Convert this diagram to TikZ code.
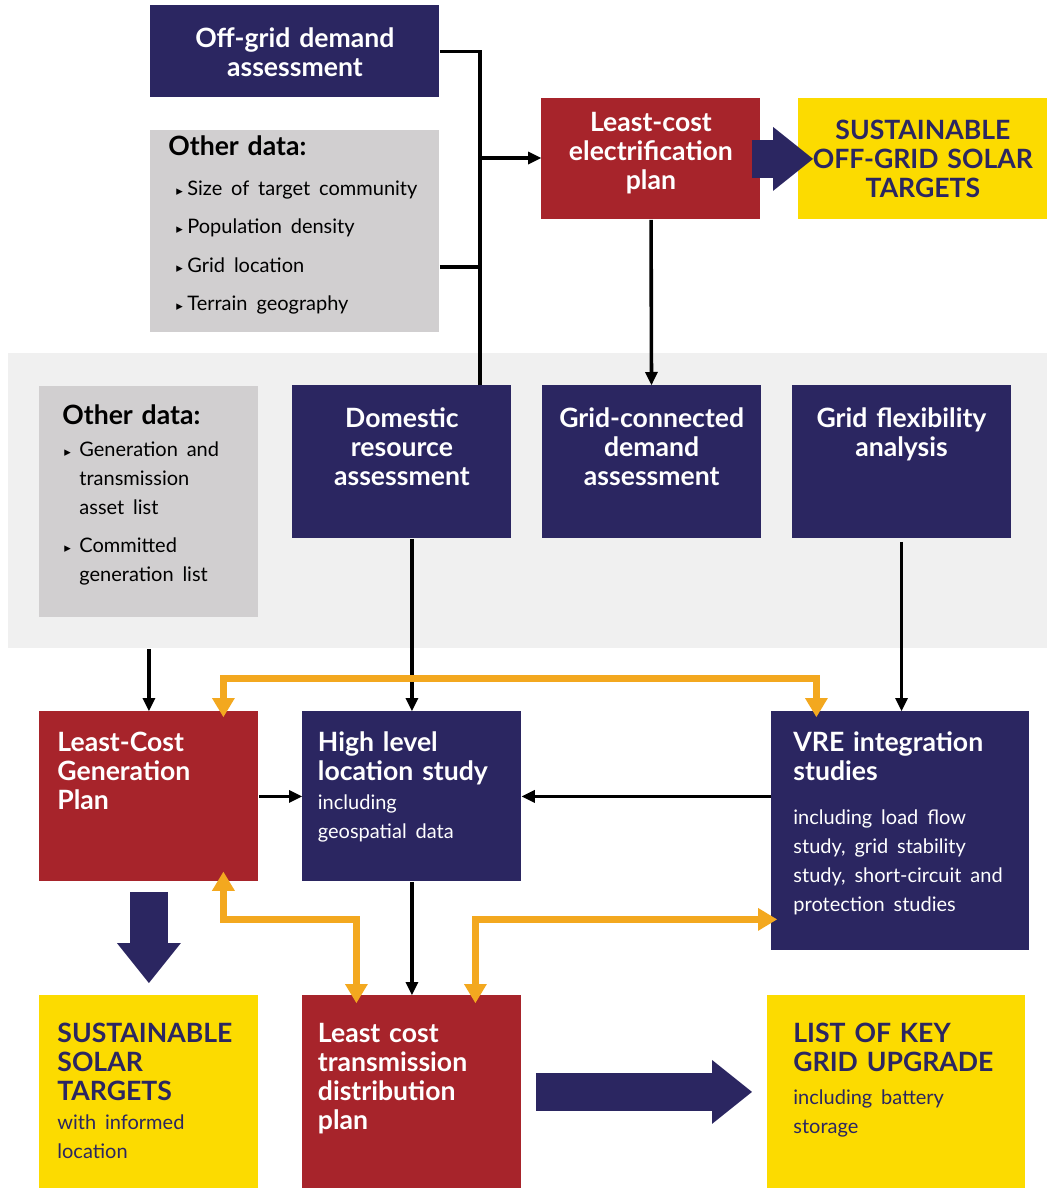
\documentclass[tikz,border=0pt]{standalone}
\usepackage{fontspec}
\setmainfont{Lato}
\newfontfamily\symfont{DejaVu Sans}
\usepackage{tikz}
\usetikzlibrary{arrows.meta,positioning}
\definecolor{hnavy}{HTML}{2B2661}
\definecolor{hred}{HTML}{A7242B}
\definecolor{hyellow}{HTML}{FCDB00}
\definecolor{hgrey}{HTML}{D1CFD0}
\definecolor{hpanel}{HTML}{F0F0F0}
\definecolor{horange}{HTML}{F3A81F}
\newcommand{\hd}{\bfseries\fontsize{13.3}{14.5}\selectfont}
\newcommand{\bd}{\mdseries\fontsize{10}{14.5}\selectfont}
\newcommand{\tbul}{{\symfont\fontsize{6.5}{6.5}\selectfont ▸}}

\begin{document}
\begin{tikzpicture}[x=0.5pt, y=-0.5pt,
        box/.style={draw=none, inner xsep=0pt, inner ysep=0pt, anchor=north west, font=\hd},
        cbox/.style={box, align=center},
        lbox/.style={box, align=left},
        navybox/.style={fill=hnavy, text=white},
        redbox/.style={fill=hred, text=white},
        yelbox/.style={fill=hyellow, text=hnavy},
        greybox/.style={fill=hgrey, text=black},
        rowbox/.style={cbox, navybox, text width=109.5pt, text height=21pt, text depth=55.5pt},
        line/.style={line width=1.8pt, black},
        blk/.style={line, -{Triangle[length=6.5pt, width=6.5pt, line width=0pt]}},
        org/.style={line width=3.5pt, horange,
                    {Triangle[length=9.5pt, width=11.5pt, line width=0pt]}-{Triangle[length=9.5pt, width=11.5pt, line width=0pt]}},
        fat/.style={line width=19pt, hnavy, -{Triangle[length=20pt, width=32pt, line width=0pt]}},
        node distance=15pt]
        \useasboundingbox (0,0) rectangle (1047,1188);
        \node[fill=hpanel, inner sep=0pt, minimum width=519.5pt, minimum height=147.5pt, anchor=north west] (panel) at (8,353) {};
        % top part
        \node[cbox, navybox, text width=144.5pt, text height=21pt, text depth=25pt] (offgrid) at (150,5) {Off-grid demand\\assessment};
        \node[lbox, greybox, inner xsep=9pt, text width=126.5pt, text height=12.5pt, text depth=88.5pt] (data1) at (150,130)
              {Other data:\\[5.5pt]{\bd \makebox[9.5pt][l]{\hspace{4pt}\tbul}Size of target community\\[4.75pt]
              \makebox[9.5pt][l]{\hspace{4pt}\tbul}Population density\\[4.75pt]
              \makebox[9.5pt][l]{\hspace{4pt}\tbul}Grid location\\[4.75pt]
              \makebox[9.5pt][l]{\hspace{4pt}\tbul}Terrain geography}};
        \node[cbox, redbox, text width=109.5pt, text height=16.5pt, text depth=44pt] (lcep) at (541,98) {Least-cost\\electrification\\plan};
        \node[cbox, yelbox, text width=124.5pt, text height=20.5pt, text depth=40pt] (sogst) at (798,98) {SUSTAINABLE\\OFF-GRID SOLAR\\TARGETS};
        % middle row
        \node[rowbox] (dom) at (292,385) {Domestic\\resource\\assessment};
        \node[rowbox, right=of dom] (gcd) {Grid-connected\\demand\\assessment};
        \node[rowbox, right=of gcd] (gfa) {Grid flexibility\\analysis};
        \node[lbox, greybox, inner xsep=11.5pt, text width=86.5pt, text height=19pt, text depth=96.5pt] (data2) at (39,386)
              {Other data:\\[1.5pt]{\bd \makebox[8.5pt][l]{\hspace{1pt}\tbul}Generation and\\\hspace*{8.5pt}transmission\\\hspace*{8.5pt}asset list\\[4.5pt]
              \makebox[8.5pt][l]{\hspace{1pt}\tbul}Committed\\\hspace*{8.5pt}generation list}};
        % studies
        \node[lbox, redbox, inner xsep=9pt, text width=91.5pt, text height=20pt, text depth=65pt] (lcgp) at (39,711) {Least-Cost\\Generation\\Plan};
        \node[lbox, navybox, inner xsep=7.75pt, text width=94pt, text height=20pt, text depth=65pt] (hls) at (302,711)
              {High level\\location study\\{\bd including\\geospatial data}};
        \node[lbox, navybox, inner xsep=11pt, text width=107pt, text height=20pt, text depth=99.5pt] (vre) at (771,711)
              {VRE integration\\studies\\[7.5pt]{\bd including load flow\\study, grid stability\\\mbox{study, short-circuit and}\\protection studies}};
        % results
        \node[lbox, yelbox, inner xsep=9pt, text width=91.5pt, text height=23.5pt, text depth=73pt] (sst) at (39,995)
              {SUSTAINABLE\\SOLAR\\TARGETS\\{\bd with informed\\location}};
        \node[lbox, redbox, inner xsep=7.75pt, text width=94pt, text height=23.5pt, text depth=73pt] (lctdp) at (302,995)
              {Least cost\\transmission\\distribution\\plan};
        \node[lbox, yelbox, inner xsep=13pt, text width=103pt, text height=23.5pt, text depth=73pt] (lkgu) at (767,995)
              {LIST OF KEY\\GRID UPGRADE\\[2pt]{\bd including battery\\storage}};
        % connectors
        \coordinate (jx) at (480,158);
        \coordinate (jy) at (480,267);
        \draw[line] (offgrid.east) -| (jx);
        \draw[line] (data1.east |- jy) -- (jy);
        \draw[line] (dom.north -| jx) -- (jx);
        \draw[blk] (jx) -- (lcep.west |- jx);
        \draw[fat, shorten <=-4.5pt, shorten >=-7.5pt] (lcep.east) -- (sogst.west);
        \draw[blk] (lcep) -- (gcd);
        \draw[blk] (dom.south -| hls.north) -- (hls.north);
        \draw[blk, shorten <=1.5pt] (gfa.south) -- (gfa.south |- vre.north);
        \draw[blk] (panel.south -| lcgp.north) -- (lcgp.north);
        \draw[blk] (lcgp) -- (hls);
        \draw[blk] (vre.west |- hls.east) -- (hls.east);
        \draw[blk] (hls) -- (lctdp);
        \draw[org, shorten <=-3pt, shorten >=-3pt] ([xshift=37.25pt]lcgp.north) -- ++(0,-33) -| ([xshift=-42pt]vre.north);
        \draw[org, shorten <=-5pt, shorten >=-4pt] ([xshift=37.25pt]lcgp.south) -- ++(0,38) -| ([xshift=-27.75pt]lctdp.north);
        \draw[org, shorten <=-4pt, shorten >=-3pt] ([xshift=31.75pt]lctdp.north) |- ([yshift=-44.25pt]vre.west);
        \draw[fat, shorten <=5pt, shorten >=6pt] (lcgp.south) -- (lcgp.south |- sst.north);
        \draw[fat, shorten <=7pt, shorten >=7.5pt] (lctdp.east) -- (lctdp.east -| lkgu.west);
      \end{tikzpicture}
\end{document}
